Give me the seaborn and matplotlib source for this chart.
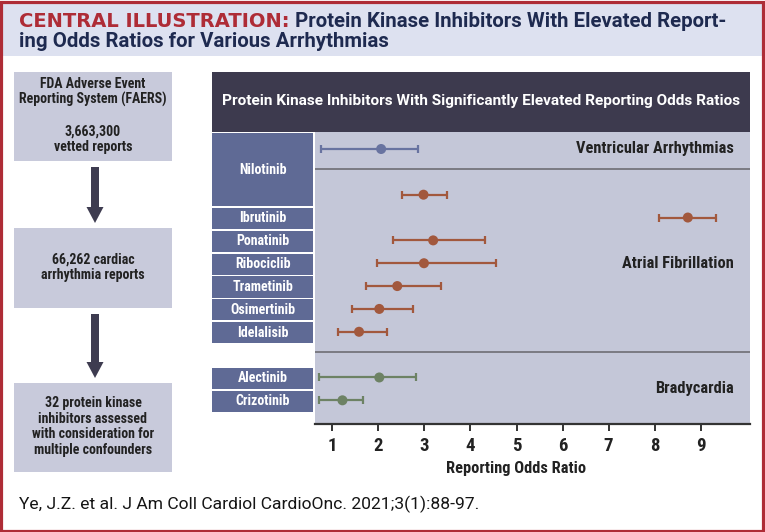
import numpy as np
import pandas as pd
import matplotlib
matplotlib.use("Agg")
import matplotlib.pyplot as plt
import matplotlib.patches as mpatches
from matplotlib.transforms import blended_transform_factory
import seaborn as sns

# ── chart data ────────────────────────────────────────────────
drugs = ["Nilotinib", "Nilotinib", "Ibrutinib", "Ponatinib", "Ribociclib",
         "Trametinib", "Osimertinib", "Idelalisib", "Alectinib", "Crizotinib"]
arrhythmias = ["Ventricular Arrhythmias"] + ["Atrial Fibrillation"] * 7 + ["Bradycardia"] * 2
ror = [2.06, 2.98, 8.72, 3.19, 2.99, 2.41, 2.02, 1.58, 2.02, 1.22]
ci_low = [0.75, 2.52, 8.09, 2.32, 1.96, 1.74, 1.42, 1.12, 0.71, 0.72]
ci_high = [2.85, 3.50, 9.33, 4.32, 4.56, 3.35, 2.75, 2.18, 2.81, 1.67]
group_order = ["Ventricular Arrhythmias", "Atrial Fibrillation", "Bradycardia"]
x_ticks = [1, 2, 3, 4, 5, 6, 7, 8, 9]

flow_steps = [
    "FDA Adverse Event\nReporting System (FAERS)\n\n3,663,300\nvetted reports",
    "66,262 cardiac\narrhythmia reports",
    "32 protein kinase\ninhibitors assessed\nwith consideration for\nmultiple confounders",
]

title_red = "CENTRAL ILLUSTRATION:"
title_rest = (" Protein Kinase Inhibitors With Elevated Report-",
              "ing Odds Ratios for Various Arrhythmias")
panel_title = "Protein Kinase Inhibitors With Significantly Elevated Reporting Odds Ratios"
footer = "Ye, J.Z. et al. J Am Coll Cardiol CardioOnc. 2021;3(1):88-97."

# ── colours ───────────────────────────────────────────────────
RED = "#ae2c36"
NAVY = "#1e2a50"
BAND = "#dde1f0"
FLOW_BOX = "#c8cadb"
PLOT_BG = "#c4c7d8"
LABEL_BOX = "#5f6a95"
HEADER = "#3d3a4e"
ARROW = "#3e3c50"
palette = {"Ventricular Arrhythmias": "#6873a0",
           "Atrial Fibrillation": "#a2583d",
           "Bradycardia": "#6d8264"}

sns.set_theme(style="white")
FONT = ["Roboto Condensed", "DejaVu Sans"]
WIDE = ["Roboto", "DejaVu Sans"]
plt.rcParams["font.family"] = FONT

df = pd.DataFrame({"drug": drugs, "arrhythmia": arrhythmias,
                   "ror": ror, "ci_low": ci_low, "ci_high": ci_high})

# rows: one empty row between arrhythmia groups
rows, r = [], 0
for g in group_order:
    n = int((df["arrhythmia"] == g).sum())
    rows += list(range(r, r + n))
    r += n + 1
df["row"] = rows

W, H = 765, 532
fig = plt.figure(figsize=(W / 100, H / 100), dpi=100)
fig.patch.set_facecolor("white")

# background axes in pixel coordinates
bg = fig.add_axes([0, 0, 1, 1], zorder=0)
bg.set_xlim(0, W)
bg.set_ylim(H, 0)
bg.axis("off")

# main forest plot axes
ax_l, ax_r, ax_t, ax_b = 314.5, 749.8, 132.0, 424.3
ax = fig.add_axes([ax_l / W, 1 - ax_b / H, (ax_r - ax_l) / W, (ax_b - ax_t) / H], zorder=1)
ax.set_facecolor(PLOT_BG)

# frame + title band
bg.add_patch(mpatches.Rectangle((3, 3), W - 6, 53, facecolor=BAND, edgecolor="none"))
bg.add_patch(mpatches.Rectangle((1.5, 1.5), W - 3, H - 3, fill=False, edgecolor=RED, lw=2.3))
t1 = bg.text(19.5, 21.5, title_red, color=RED, fontsize=14, fontweight="bold",
             va="center", family="DejaVu Sans")
bg.annotate(title_rest[0], xy=(1, 0), xycoords=t1, va="bottom", ha="left",
            color=NAVY, fontsize=14.7, fontweight="bold", family=WIDE)
bg.text(19.5, 41.5, title_rest[1], color=NAVY, fontsize=14.7, fontweight="bold",
        va="center", family=WIDE)

# flowchart on the left
box_spans = [(72, 161), (228, 308), (383, 472)]
for txt, (y0, y1) in zip(flow_steps, box_spans):
    bg.add_patch(mpatches.Rectangle((14, y0), 158, y1 - y0, facecolor=FLOW_BOX, edgecolor="none"))
    bg.text(93, (y0 + y1) / 2 - 1, txt, ha="center", va="center", fontsize=10,
            fontweight="bold", color="#222222", linespacing=1.15)
for (_, y_end), (y_next, _) in zip(box_spans[:-1], box_spans[1:]):
    bg.add_patch(mpatches.FancyArrow(95, y_end + 6, 0, (y_next - 5) - (y_end + 6),
                                     width=8, head_width=17, head_length=16,
                                     length_includes_head=True, color=ARROW, lw=0))

# dark header above the plot
bg.add_patch(mpatches.Rectangle((212.5, 72), ax_r - 212.5, 59.5, facecolor=HEADER, edgecolor="none"))
bg.text((212.5 + ax_r) / 2, 101.5, panel_title, ha="center", va="center",
        color="white", fontsize=11.1, fontweight="bold", family=WIDE)

# confidence intervals and point estimates
for g, sub in df.groupby("arrhythmia", sort=False):
    ax.errorbar(sub["ror"], sub["row"],
                xerr=[sub["ror"] - sub["ci_low"], sub["ci_high"] - sub["ror"]],
                fmt="none", ecolor=palette[g], elinewidth=1.6,
                capsize=2.8, capthick=1.6, zorder=2)
sns.scatterplot(data=df, x="ror", y="row", hue="arrhythmia", palette=palette,
                s=52, linewidth=0, legend=False, ax=ax, zorder=3)

ax.set_xlim(0.613, 10.066)
ax.set_ylim(12.05, -0.744)

# separators between arrhythmia groups
grp_rows = [df.loc[df["arrhythmia"] == g, "row"] for g in group_order]
for a, b in zip(grp_rows[:-1], grp_rows[1:]):
    ax.axhline((a.max() + b.min()) / 2 - 0.12, color="#6e6e74", lw=1.2, zorder=1)

# group names on the right
tr_axes_y = blended_transform_factory(ax.transAxes, ax.transData)
for g, gr in zip(group_order, grp_rows):
    ax.text(0.9637, gr.mean(), g, transform=tr_axes_y, ha="right", va="center",
            fontsize=11.8, fontweight="bold", color="#222222")

# drug label boxes to the left of the plot
tr_px_y = blended_transform_factory(bg.transData, ax.transData)
for i, (drug, sub) in enumerate(df.groupby("drug", sort=False)):
    top = -0.70 if i == 0 else sub["row"].min() - 0.42
    bot = sub["row"].max() + 0.5
    bg.add_patch(mpatches.Rectangle((212.5, top), 100.5, bot - top, transform=tr_px_y,
                                    facecolor=LABEL_BOX, edgecolor="none"))
    bg.text(262.7, (top + bot) / 2, drug, transform=tr_px_y, ha="center", va="center",
            color="white", fontsize=10, fontweight="bold")

# axis styling
sns.despine(ax=ax, left=True)
ax.spines["bottom"].set_color("#333333")
ax.spines["bottom"].set_linewidth(1.6)
ax.set_xticks(x_ticks)
ax.set_yticks([])
ax.tick_params(axis="x", bottom=True, direction="out", length=5, width=1.4,
               color="#333333", pad=4, labelsize=13.5, labelcolor="#222222")
for lab in ax.get_xticklabels():
    lab.set_fontweight("bold")
ax.set_ylabel("")
ax.set_xlabel("Reporting Odds Ratio", fontsize=11.8, fontweight="bold", color="#222222")
ax.xaxis.set_label_coords(0.463, -(468 - ax_b) / (ax_b - ax_t))
ax.xaxis.label.set_va("center")

bg.text(19.5, 504, footer, ha="left", va="center", fontsize=12.6, color="#151515", family=WIDE)

fig.savefig("out.png", dpi=100)
